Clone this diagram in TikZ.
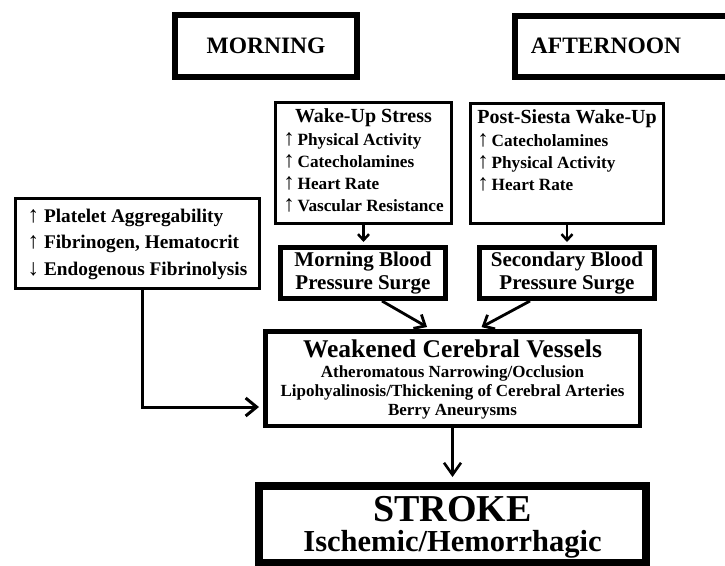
\documentclass[tikz,border=0pt]{standalone}
\usepackage{fontspec}
\setmainfont{Liberation Serif}
\usetikzlibrary{arrows.meta,calc}
\newcommand{\fsz}[2]{\fontsize{#1}{#2}\selectfont}
\newcommand{\upa}{{\fontsize{23}{22}\selectfont↑}}
\newcommand{\dna}{{\fontsize{23}{22}\selectfont↓}}
\begin{document}
\begin{tikzpicture}[x=1pt,y=-1pt,
  box/.style={draw, fill=white, inner sep=0pt, font=\bfseries, align=center},
  conn/.style={line width=2.5pt, -{Straight Barb[length=6pt,width=11pt]}},
  connd/.style={line width=2.8pt, -{Straight Barb[length=9pt,width=16pt]}},
  connl/.style={line width=3pt, -{Straight Barb[length=11pt,width=18pt]}},
  conns/.style={line width=2.6pt, -{Straight Barb[length=12pt,width=17pt]}}]
\useasboundingbox (0,0) rectangle (725,565);
\clip (0,0) rectangle (725,565);
\fill[white] (0,0) rectangle (725,565);

% headers
\node[box, line width=6pt, minimum width=182pt, minimum height=62pt, font=\bfseries\fsz{23.5}{28}] (morning) at (266,46) {MORNING};
\draw[line width=6pt] (515,16) rectangle (745,77);
\node[font=\bfseries\fsz{23.5}{28}, inner sep=0pt] (afternoon) at (606,46) {AFTERNOON};

% wake-up stress
\node[box, line width=3.5pt, minimum width=176pt, minimum height=121pt] (wake) at (363.5,163)
 {\fsz{17.2}{22}\begin{tabular}{@{}l@{}}\multicolumn{1}{@{}c@{}}{\fsz{20}{22}Wake-Up Stress}\\[1pt]
 \upa\,Physical Activity\\ \upa\,Catecholamines\\ \upa\,Heart Rate\\ \upa\,Vascular Resistance\end{tabular}};

% post-siesta
\node[box, line width=3.5pt, minimum width=193pt, minimum height=120pt] (post) at (567,163.5)
 {\fsz{17.2}{22}\begin{tabular}{@{}l@{}}\multicolumn{1}{@{}c@{}}{\fsz{20}{22}Post-Siesta Wake-Up}\\[1pt]
 \upa\,Catecholamines\\ \upa\,Physical Activity\\ \upa\,Heart Rate\\ \mbox{}\end{tabular}};

% blood factors
\node[box, line width=3.5pt, minimum width=244pt, minimum height=90pt] (blood) at (137.5,243.5)
 {\fsz{19.3}{26.5}\begin{tabular}{@{}l@{}}\upa\ Platelet Aggregability\\ \upa\ Fibrinogen, Hematocrit\\ \dna\ Endogenous Fibrinolysis\end{tabular}};

% surges
\node[box, line width=5pt, minimum width=165pt, minimum height=51pt, font=\bfseries\fsz{21}{22.5}] (msurge) at (363,273) {Morning Blood\\Pressure Surge};
\node[box, line width=5pt, minimum width=175pt, minimum height=51pt, font=\bfseries\fsz{21}{22.5}] (ssurge) at (567,273) {Secondary Blood\\Pressure Surge};

% weakened vessels
\node[box, line width=4.5pt, minimum width=374.5pt, minimum height=94.5pt] (weak) at (452.5,378.5)
 {\raisebox{-2pt}[\height][\depth]{\fsz{17}{19}\begin{tabular}{@{}c@{}}{\fsz{25.5}{19}Weakened Cerebral Vessels}\\[1pt] Atheromatous Narrowing/Occlusion\\ Lipohyalinosis/Thickening of Cerebral Arteries\\ Berry Aneurysms\end{tabular}}};

% stroke
\node[box, line width=8pt, minimum width=387pt, minimum height=77pt] (stroke) at (452.5,524.5)
 {\raisebox{-3.5pt}[\height][\depth]{\fsz{30.5}{28}\begin{tabular}{@{}c@{}}{\fsz{38}{28}STROKE}\\ Ischemic/Hemorrhagic\end{tabular}}};

% connectors
\draw[conn, shorten >=3pt] (wake.south) -- (wake.south |- msurge.north);
\draw[conn, shorten >=3pt] (post.south) -- (post.south |- ssurge.north);
\draw[connd, shorten >=4pt] ([xshift=19pt]msurge.south) -- ([xshift=-22pt]weak.north);
\draw[connd, shorten >=4pt] ([xshift=-37pt]ssurge.south) -- ([xshift=25.5pt]weak.north);
\draw[connl, shorten >=4pt] ([xshift=4.5pt]blood.south) |- ([yshift=-28.5pt]weak.west);
\draw[conns, shorten >=5pt] (weak.south) -- (weak.south |- stroke.north);
\end{tikzpicture}
\end{document}
